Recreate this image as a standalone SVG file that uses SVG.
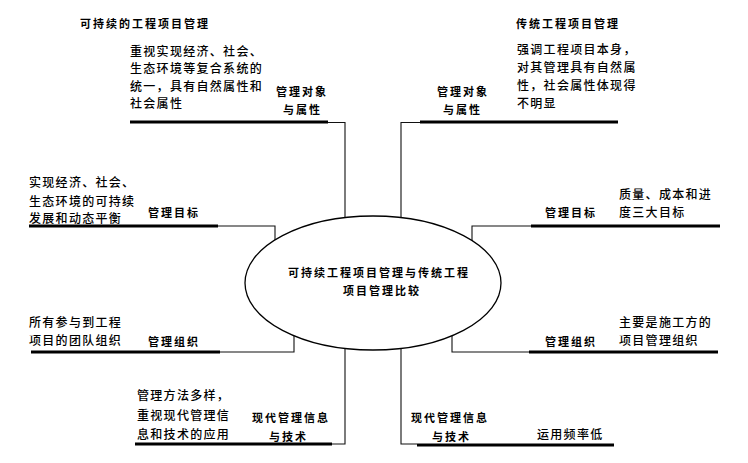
<svg xmlns="http://www.w3.org/2000/svg" width="748" height="463" viewBox="0 0 748 463">
<style>
.bg{fill:#fff}
.thin{fill:none;stroke:#111;stroke-width:1.1}
.thick{fill:none;stroke:#000;stroke-width:3}
.body{font-family:"Noto Sans CJK SC","Noto Sans CJK JP",sans-serif;font-size:12px;font-weight:500;letter-spacing:1.3px;fill:#000}
.lab{font-family:"Noto Sans CJK SC","Noto Sans CJK JP",sans-serif;font-size:11px;font-weight:bold;letter-spacing:2px;fill:#000}
.ell{fill:#fff;stroke:#000;stroke-width:1.3}
</style>
<rect class="bg" width="748" height="463"/>
<g id="connectors">
<path class="thin" d="M328,122.5 H345 V283"/>
<path class="thick" d="M130,122 H328"/>
<path class="thin" d="M420,122.5 H401 V283"/>
<path class="thick" d="M420,122 H618"/>
<path class="thin" d="M218,226 H275 V270"/>
<path class="thick" d="M29,226 H218"/>
<path class="thin" d="M220,352 H294 V300"/>
<path class="thick" d="M31,352 H220"/>
<path class="thin" d="M531,226 H472 V270"/>
<path class="thick" d="M531,226 H720"/>
<path class="thin" d="M529,352 H452 V300"/>
<path class="thick" d="M529,352 H718"/>
<path class="thin" d="M345,283 V444 H332"/>
<path class="thick" d="M135,444 H332"/>
<path class="thin" d="M401,283 V444 H417"/>
<path class="thick" d="M417,445 H614"/>
</g>
<g id="center">
<ellipse class="ell" cx="373" cy="283" rx="128" ry="67"/>
<text class="lab" x="288" y="277">可持续工程项目管理与传统工程</text>
<text class="lab" x="343" y="295">项目管理比较</text>
</g>
<g id="title-left">
<text class="lab" x="80" y="28">可持续的工程项目管理</text>
</g>
<g id="title-right">
<text class="lab" x="516" y="28">传统工程项目管理</text>
</g>
<g id="left-object">
<text class="body" x="130" y="55.5">重视实现经济、社会、</text>
<text class="body" x="130" y="73">生态环境等复合系统的</text>
<text class="body" x="130" y="90.5">统一，具有自然属性和</text>
<text class="body" x="130" y="108">社会属性</text>
<text class="lab" x="276" y="96">管理对象</text>
<text class="lab" x="283" y="114">与属性</text>
</g>
<g id="right-object">
<text class="body" x="517" y="54">强调工程项目本身，</text>
<text class="body" x="517" y="72">对其管理具有自然属</text>
<text class="body" x="517" y="90">性，社会属性体现得</text>
<text class="body" x="517" y="108">不明显</text>
<text class="lab" x="437" y="96">管理对象</text>
<text class="lab" x="443" y="114">与属性</text>
</g>
<g id="left-goal">
<text class="body" x="29" y="187">实现经济、社会、</text>
<text class="body" x="29" y="205.5">生态环境的可持续</text>
<text class="body" x="29" y="223">发展和动态平衡</text>
<text class="lab" x="148" y="217">管理目标</text>
</g>
<g id="right-goal">
<text class="lab" x="545" y="217">管理目标</text>
<text class="body" x="619" y="199">质量、成本和进</text>
<text class="body" x="619" y="217">度三大目标</text>
</g>
<g id="left-org">
<text class="body" x="29" y="327">所有参与到工程</text>
<text class="body" x="29" y="345">项目的团队组织</text>
<text class="lab" x="148" y="346">管理组织</text>
</g>
<g id="right-org">
<text class="lab" x="545" y="346">管理组织</text>
<text class="body" x="619" y="327">主要是施工方的</text>
<text class="body" x="619" y="345">项目管理组织</text>
</g>
<g id="left-tech">
<text class="body" x="137" y="400">管理方法多样，</text>
<text class="body" x="137" y="420">重视现代管理信</text>
<text class="body" x="137" y="439">息和技术的应用</text>
<text class="lab" x="252" y="422">现代管理信息</text>
<text class="lab" x="269" y="441">与技术</text>
</g>
<g id="right-tech">
<text class="lab" x="411" y="422">现代管理信息</text>
<text class="lab" x="432" y="441">与技术</text>
<text class="body" x="537" y="439">运用频率低</text>
</g>
</svg>
